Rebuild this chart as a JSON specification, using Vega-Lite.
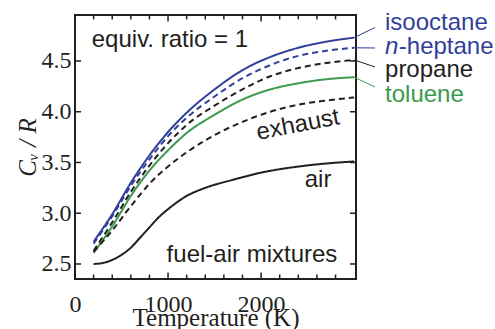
{
  "$schema": "https://vega.github.io/schema/vega-lite/v6.json",
  "autosize": "none",
  "width": 281,
  "height": 264,
  "padding": {"left": 75, "top": 15, "right": 139, "bottom": 50},
  "background": "white",
  "config": {
    "view": {"stroke": "#231f20", "strokeWidth": 2},
    "axis": {
      "domain": false,
      "ticks": true,
      "tickColor": "#231f20", "tickWidth": 1.5, "tickOpacity": 0,
      "grid": false,
      "labelFont": "Liberation Serif", "labelFontSize": 24, "labelColor": "#231f20",
      "titleFont": "Liberation Serif", "titleFontSize": 25, "titleColor": "#231f20", "titleFontWeight": "normal"
    }
  },
  "datasets": {
    "curves": [
      {"T": 200, "v": 2.72, "s": "isooctane"}, {"T": 400, "v": 2.99, "s": "isooctane"}, {"T": 600, "v": 3.30, "s": "isooctane"}, {"T": 800, "v": 3.57, "s": "isooctane"}, {"T": 1000, "v": 3.80, "s": "isooctane"}, {"T": 1200, "v": 3.99, "s": "isooctane"}, {"T": 1500, "v": 4.22, "s": "isooctane"}, {"T": 1800, "v": 4.41, "s": "isooctane"}, {"T": 2100, "v": 4.54, "s": "isooctane"}, {"T": 2400, "v": 4.63, "s": "isooctane"}, {"T": 2700, "v": 4.69, "s": "isooctane"}, {"T": 3000, "v": 4.73, "s": "isooctane"},
      {"T": 200, "v": 2.70, "s": "n-heptane"}, {"T": 400, "v": 2.97, "s": "n-heptane"}, {"T": 600, "v": 3.27, "s": "n-heptane"}, {"T": 800, "v": 3.53, "s": "n-heptane"}, {"T": 1000, "v": 3.76, "s": "n-heptane"}, {"T": 1200, "v": 3.94, "s": "n-heptane"}, {"T": 1500, "v": 4.15, "s": "n-heptane"}, {"T": 1800, "v": 4.33, "s": "n-heptane"}, {"T": 2100, "v": 4.46, "s": "n-heptane"}, {"T": 2400, "v": 4.55, "s": "n-heptane"}, {"T": 2700, "v": 4.60, "s": "n-heptane"}, {"T": 3000, "v": 4.63, "s": "n-heptane"},
      {"T": 200, "v": 2.63, "s": "propane"}, {"T": 400, "v": 2.91, "s": "propane"}, {"T": 600, "v": 3.21, "s": "propane"}, {"T": 800, "v": 3.47, "s": "propane"}, {"T": 1000, "v": 3.69, "s": "propane"}, {"T": 1200, "v": 3.87, "s": "propane"}, {"T": 1500, "v": 4.06, "s": "propane"}, {"T": 1800, "v": 4.22, "s": "propane"}, {"T": 2100, "v": 4.35, "s": "propane"}, {"T": 2400, "v": 4.43, "s": "propane"}, {"T": 2700, "v": 4.48, "s": "propane"}, {"T": 3000, "v": 4.51, "s": "propane"},
      {"T": 200, "v": 2.61, "s": "toluene"}, {"T": 400, "v": 2.87, "s": "toluene"}, {"T": 600, "v": 3.17, "s": "toluene"}, {"T": 800, "v": 3.42, "s": "toluene"}, {"T": 1000, "v": 3.62, "s": "toluene"}, {"T": 1200, "v": 3.79, "s": "toluene"}, {"T": 1500, "v": 3.97, "s": "toluene"}, {"T": 1800, "v": 4.12, "s": "toluene"}, {"T": 2100, "v": 4.22, "s": "toluene"}, {"T": 2400, "v": 4.28, "s": "toluene"}, {"T": 2700, "v": 4.32, "s": "toluene"}, {"T": 3000, "v": 4.34, "s": "toluene"},
      {"T": 200, "v": 2.62, "s": "exhaust"}, {"T": 400, "v": 2.83, "s": "exhaust"}, {"T": 600, "v": 3.07, "s": "exhaust"}, {"T": 800, "v": 3.29, "s": "exhaust"}, {"T": 1000, "v": 3.46, "s": "exhaust"}, {"T": 1200, "v": 3.60, "s": "exhaust"}, {"T": 1500, "v": 3.77, "s": "exhaust"}, {"T": 1800, "v": 3.90, "s": "exhaust"}, {"T": 2100, "v": 4.00, "s": "exhaust"}, {"T": 2400, "v": 4.07, "s": "exhaust"}, {"T": 2700, "v": 4.11, "s": "exhaust"}, {"T": 3000, "v": 4.14, "s": "exhaust"},
      {"T": 200, "v": 2.50, "s": "air"}, {"T": 300, "v": 2.51, "s": "air"}, {"T": 400, "v": 2.54, "s": "air"}, {"T": 500, "v": 2.59, "s": "air"}, {"T": 600, "v": 2.66, "s": "air"}, {"T": 700, "v": 2.76, "s": "air"}, {"T": 800, "v": 2.86, "s": "air"}, {"T": 900, "v": 2.96, "s": "air"}, {"T": 1000, "v": 3.04, "s": "air"}, {"T": 1200, "v": 3.17, "s": "air"}, {"T": 1400, "v": 3.25, "s": "air"}, {"T": 1700, "v": 3.33, "s": "air"}, {"T": 2000, "v": 3.40, "s": "air"}, {"T": 2400, "v": 3.46, "s": "air"}, {"T": 2700, "v": 3.49, "s": "air"}, {"T": 3000, "v": 3.51, "s": "air"}
    ],
    "leaders": [
      {"T1": 3000, "v1": 4.73, "T2": 3224, "v2": 4.83, "s": "isooctane"},
      {"T1": 3000, "v1": 4.63, "T2": 3224, "v2": 4.628, "s": "n-heptane"},
      {"T1": 3000, "v1": 4.51, "T2": 3224, "v2": 4.441, "s": "propane"},
      {"T1": 3000, "v1": 4.34, "T2": 3224, "v2": 4.244, "s": "toluene"}
    ],
    "labels": [
      {"T": 3332, "v": 4.805, "text": "isooctane", "s": "isooctane"},
      {"T": 3480, "v": 4.569, "text": "-heptane", "s": "n-heptane"},
      {"T": 3332, "v": 4.342, "text": "propane", "s": "propane"},
      {"T": 3332, "v": 4.096, "text": "toluene", "s": "toluene"}
    ],
    "italic": [
      {"T": 3332, "v": 4.569, "text": "n", "s": "n-heptane"}
    ],
    "notes": [
      {"T": 1020, "v": 4.638, "text": "equiv. ratio = 1"},
      {"T": 2612, "v": 3.258, "text": "air"},
      {"T": 1902, "v": 2.519, "text": "fuel-air mixtures"}
    ],
    "rotated": [
      {"T": 2397, "v": 3.869, "text": "exhaust"}
    ],
    "xticks": [
      {"T": 200, "lo": 2.352, "hi": 2.396}, {"T": 400, "lo": 2.352, "hi": 2.396}, {"T": 600, "lo": 2.352, "hi": 2.396}, {"T": 800, "lo": 2.352, "hi": 2.396}, {"T": 1000, "lo": 2.352, "hi": 2.416},
      {"T": 1200, "lo": 2.352, "hi": 2.396}, {"T": 1400, "lo": 2.352, "hi": 2.396}, {"T": 1600, "lo": 2.352, "hi": 2.396}, {"T": 1800, "lo": 2.352, "hi": 2.396}, {"T": 2000, "lo": 2.352, "hi": 2.416},
      {"T": 2200, "lo": 2.352, "hi": 2.396}, {"T": 2400, "lo": 2.352, "hi": 2.396}, {"T": 2600, "lo": 2.352, "hi": 2.396}, {"T": 2800, "lo": 2.352, "hi": 2.396},
      {"T": 200, "lo": 4.953, "hi": 4.909}, {"T": 400, "lo": 4.953, "hi": 4.909}, {"T": 600, "lo": 4.953, "hi": 4.909}, {"T": 800, "lo": 4.953, "hi": 4.909}, {"T": 1000, "lo": 4.953, "hi": 4.889},
      {"T": 1200, "lo": 4.953, "hi": 4.909}, {"T": 1400, "lo": 4.953, "hi": 4.909}, {"T": 1600, "lo": 4.953, "hi": 4.909}, {"T": 1800, "lo": 4.953, "hi": 4.909}, {"T": 2000, "lo": 4.953, "hi": 4.889},
      {"T": 2200, "lo": 4.953, "hi": 4.909}, {"T": 2400, "lo": 4.953, "hi": 4.909}, {"T": 2600, "lo": 4.953, "hi": 4.909}, {"T": 2800, "lo": 4.953, "hi": 4.909}
    ],
    "yticks": [
      {"v": 2.5, "lo": 0, "hi": 65}, {"v": 3.0, "lo": 0, "hi": 65}, {"v": 3.5, "lo": 0, "hi": 65}, {"v": 4.0, "lo": 0, "hi": 65}, {"v": 4.5, "lo": 0, "hi": 65},
      {"v": 2.5, "lo": 3020, "hi": 2955}, {"v": 3.0, "lo": 3020, "hi": 2955}, {"v": 3.5, "lo": 3020, "hi": 2955}, {"v": 4.0, "lo": 3020, "hi": 2955}, {"v": 4.5, "lo": 3020, "hi": 2955}
    ]
  },
  "resolve": {"axis": {"x": "independent", "y": "independent"}},
  "layer": [
    {
      "data": {"name": "curves"},
      "mark": {"type": "line", "strokeWidth": 2, "interpolate": "monotone"},
      "encoding": {
        "x": {"field": "T", "type": "quantitative",
          "scale": {"domain": [0, 3020], "nice": false, "zero": false},
          "axis": {"orient": "bottom", "title": "Temperature (K)", "values": [0, 1000, 2000], "format": "d",
            "offset": -5, "tickSize": 5, "labelPadding": 13, "labelFlush": false, "labelOverlap": false, "titlePadding": -11}},
        "y": {"field": "v", "type": "quantitative",
          "scale": {"domain": [2.352, 4.953], "nice": false, "zero": false},
          "axis": {"orient": "left", "title": "Cᵥ / R", "titleFontStyle": "italic", "values": [2.5, 3.0, 3.5, 4.0, 4.5], "format": ".1f",
            "offset": -6, "tickSize": 6, "labelPadding": 4, "labelFlush": false, "labelOverlap": false, "titlePadding": 1}},
        "color": {"field": "s", "type": "nominal", "legend": null,
          "scale": {"domain": ["isooctane", "n-heptane", "propane", "toluene", "exhaust", "air"],
            "range": ["#2f3f9a", "#2f3f9a", "#231f20", "#3b9a4c", "#231f20", "#231f20"]}},
        "strokeDash": {"field": "s", "type": "nominal", "legend": null,
          "scale": {"domain": ["isooctane", "n-heptane", "propane", "toluene", "exhaust", "air"],
            "range": [[1, 0], [6, 4], [6, 4], [1, 0], [6, 4], [1, 0]]}}
      }
    },
    {
      "data": {"name": "xticks"},
      "mark": {"type": "rule", "strokeWidth": 1.5, "color": "#231f20"},
      "encoding": {
        "x": {"field": "T", "type": "quantitative", "axis": null},
        "y": {"field": "lo", "type": "quantitative", "axis": null},
        "y2": {"field": "hi"}
      }
    },
    {
      "data": {"name": "yticks"},
      "mark": {"type": "rule", "strokeWidth": 1.5, "color": "#231f20"},
      "encoding": {
        "y": {"field": "v", "type": "quantitative", "axis": null},
        "x": {"field": "lo", "type": "quantitative", "axis": null},
        "x2": {"field": "hi"}
      }
    },
    {
      "data": {"name": "leaders"},
      "mark": {"type": "rule", "strokeWidth": 1},
      "encoding": {
        "x": {"field": "T1", "type": "quantitative", "axis": null},
        "x2": {"field": "T2"},
        "y": {"field": "v1", "type": "quantitative", "axis": null},
        "y2": {"field": "v2"},
        "color": {"field": "s", "type": "nominal", "legend": null}
      }
    },
    {
      "data": {"name": "labels"},
      "mark": {"type": "text", "font": "Liberation Sans", "fontSize": 24, "align": "left", "baseline": "alphabetic"},
      "encoding": {
        "x": {"field": "T", "type": "quantitative", "axis": null},
        "y": {"field": "v", "type": "quantitative", "axis": null},
        "text": {"field": "text"},
        "color": {"field": "s", "type": "nominal", "legend": null}
      }
    },
    {
      "data": {"name": "italic"},
      "mark": {"type": "text", "font": "Liberation Sans", "fontSize": 24, "fontStyle": "italic", "align": "left", "baseline": "alphabetic"},
      "encoding": {
        "x": {"field": "T", "type": "quantitative", "axis": null},
        "y": {"field": "v", "type": "quantitative", "axis": null},
        "text": {"field": "text"},
        "color": {"field": "s", "type": "nominal", "legend": null}
      }
    },
    {
      "data": {"name": "notes"},
      "mark": {"type": "text", "font": "Liberation Sans", "fontSize": 24, "align": "center", "baseline": "alphabetic", "color": "#231f20"},
      "encoding": {
        "x": {"field": "T", "type": "quantitative", "axis": null},
        "y": {"field": "v", "type": "quantitative", "axis": null},
        "text": {"field": "text"}
      }
    },
    {
      "data": {"name": "rotated"},
      "mark": {"type": "text", "font": "Liberation Sans", "fontSize": 24, "align": "center", "baseline": "middle", "angle": -11, "color": "#231f20"},
      "encoding": {
        "x": {"field": "T", "type": "quantitative", "axis": null},
        "y": {"field": "v", "type": "quantitative", "axis": null},
        "text": {"field": "text"}
      }
    }
  ]
}
